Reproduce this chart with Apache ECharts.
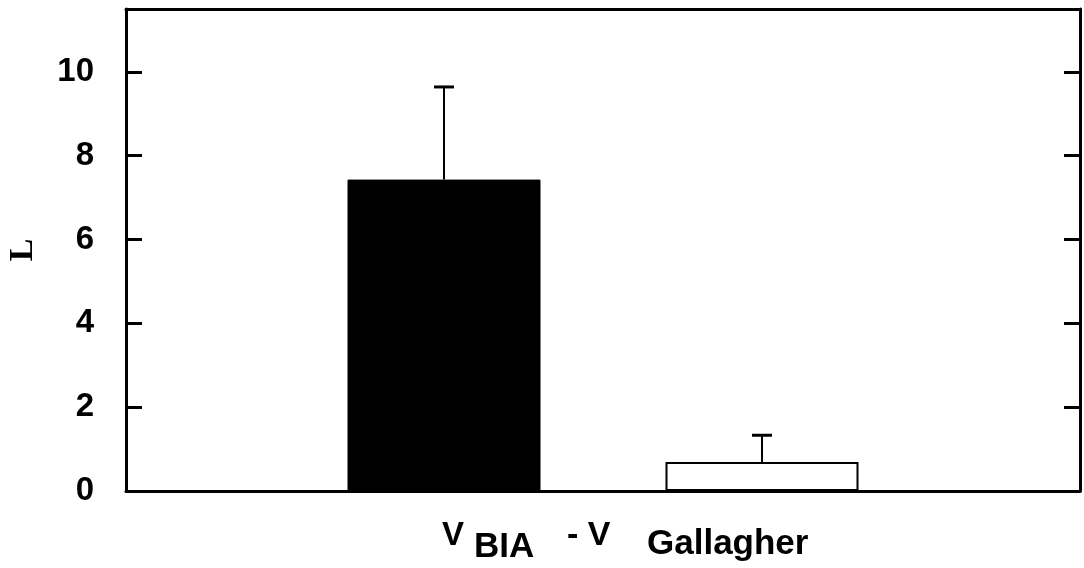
<!DOCTYPE html>
<html>
<head>
<meta charset="utf-8">
<script src="https://cdn.jsdelivr.net/npm/echarts@6/dist/echarts.min.js"></script>
<style>
html,body{margin:0;padding:0;background:#fff;}
#chart{width:1084px;height:568px;}
</style>
</head>
<body>
<div id="chart"></div>
<script>
// Data
const categories = ['V_BIA', 'V_Gallagher'];
const positions = [1, 2];
const means = [7.43, 0.69];
const errors = [2.21, 0.64];
const yTicks = [0, 2, 4, 6, 8, 10];

const chart = echarts.init(document.getElementById('chart'));
const barData = means.map((v, i) => ({
  value: [positions[i], v],
  itemStyle: i === 0
    ? { color: '#000', borderColor: '#000', borderWidth: 1 }
    : { color: '#fff', borderColor: '#000', borderWidth: 2 }
}));
const errData = means.map((v, i) => [positions[i], v, v + errors[i]]);

const option = {
  animation: false,
  backgroundColor: '#fff',
  grid: { left: 126, right: 4, top: 9, bottom: 77, show: false, containLabel: false, outerBoundsMode: 'none' },
  xAxis: [
    { type: 'value', min: 0, max: 3, position: 'bottom',
      axisLine: { show: true, onZero: false, lineStyle: { color: '#000', width: 3 } },
      axisTick: { show: false }, axisLabel: { show: false }, splitLine: { show: false } },
    { type: 'value', min: 0, max: 3, position: 'top',
      axisLine: { show: true, onZero: false, lineStyle: { color: '#000', width: 3 } },
      axisTick: { show: false }, axisLabel: { show: false }, splitLine: { show: false } }
  ],
  yAxis: [
    { type: 'value', min: 0, max: 11.5, interval: 2, position: 'left',
      name: 'L', nameLocation: 'middle', nameGap: 86, nameRotate: 90,
      nameTextStyle: { fontFamily: 'Liberation Serif', fontWeight: 'bold', fontSize: 34, color: '#000' },
      axisLine: { show: true, onZero: false, lineStyle: { color: '#000', width: 3 } },
      axisTick: { show: true, inside: true, length: 16, lineStyle: { color: '#000', width: 3 } },
      axisLabel: { show: true, margin: 32, fontFamily: 'Liberation Sans', fontWeight: 'bold', fontSize: 33, color: '#000',
        formatter: v => (yTicks.indexOf(v) >= 0 ? String(v) : '') },
      splitLine: { show: false } },
    { type: 'value', min: 0, max: 11.5, interval: 2, position: 'right',
      axisLine: { show: true, onZero: false, lineStyle: { color: '#000', width: 3 } },
      axisTick: { show: true, inside: true, length: 16, lineStyle: { color: '#000', width: 3 } },
      axisLabel: { show: false }, splitLine: { show: false } }
  ],
  series: [
    { type: 'bar', xAxisIndex: 0, yAxisIndex: 0, barWidth: 193, data: barData, z: 2 },
    { type: 'custom', xAxisIndex: 0, yAxisIndex: 0, z: 3,
      data: errData,
      renderItem: function (params, api) {
        const base = api.coord([api.value(0), api.value(1)]);
        const top = api.coord([api.value(0), api.value(2)]);
        return { type: 'group', children: [
          { type: 'line', shape: { x1: base[0], y1: base[1], x2: top[0], y2: top[1] }, style: { stroke: '#000', lineWidth: 2 } },
          { type: 'line', shape: { x1: top[0] - 10, y1: top[1], x2: top[0] + 10, y2: top[1] }, style: { stroke: '#000', lineWidth: 3 } }
        ]};
      }
    }
  ],
  graphic: [
    { type: 'text', left: 442, top: 519, style: { text: 'V', font: 'bold 33px "Liberation Sans"', fill: '#000' } },
    { type: 'text', left: 474, top: 530, style: { text: 'BIA', font: 'bold 35px "Liberation Sans"', fill: '#000' } },
    { type: 'text', left: 567, top: 519, style: { text: '- V', font: 'bold 34px "Liberation Sans"', fill: '#000' } },
    { type: 'text', left: 647, top: 527, style: { text: 'Gallagher', font: 'bold 35px "Liberation Sans"', fill: '#000' } }
  ]
};
chart.setOption(option);
</script>
</body>
</html>
